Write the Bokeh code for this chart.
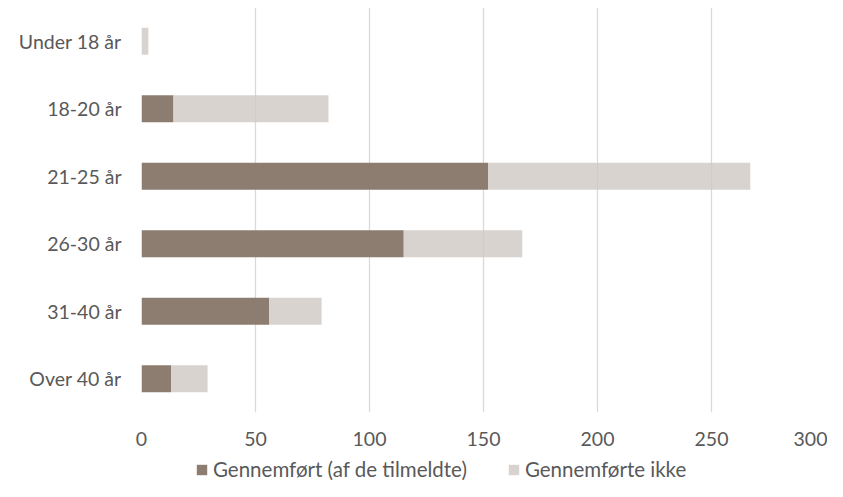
from bokeh.plotting import figure
from bokeh.models import FactorRange, Range1d, Legend, LegendItem, FixedTicker
from bokeh.layouts import column
from bokeh.embed import file_html
from bokeh.resources import INLINE

categories = ["Under 18 år", "18-20 år", "21-25 år", "26-30 år", "31-40 år", "Over 40 år"]
completed = [0, 14, 152, 115, 56, 13]
not_completed = [3, 68, 115, 52, 23, 16]
series = ["Gennemført (af de tilmeldte)", "Gennemførte ikke"]
x_ticks = [0, 50, 100, 150, 200, 250, 300]
colors = ["#8D7C70", "#D0C8C3"]
alphas = [1.0, 0.8]

FONT = "Lato"
TXT = "#595959"
W = 827

p = figure(width=W, height=456, output_backend="svg", toolbar_location=None,
           y_range=FactorRange(factors=list(reversed(categories))),
           x_range=Range1d(0, 300),
           min_border_left=141, min_border_right=2, min_border_top=7, min_border_bottom=44)

data = {"cat": categories, "c": completed, "n": not_completed}
rs = p.hbar_stack(["c", "n"], y="cat", height=0.4, source=data,
                  color=colors, fill_alpha=alphas, line_color=None)

p.outline_line_color = None
p.ygrid.grid_line_color = None
p.xgrid.grid_line_color = "#D9D9D9"
p.xgrid.grid_line_width = 1.3
p.xgrid.level = "underlay"
p.xaxis.ticker = FixedTicker(ticks=x_ticks)

for ax in (p.xaxis[0], p.yaxis[0]):
    ax.axis_line_color = None
    ax.major_tick_line_color = None
    ax.minor_tick_line_color = None
    ax.major_tick_out = 0
    ax.major_tick_in = 0
    ax.major_label_text_font = FONT
    ax.major_label_text_font_size = "19.5px"
    ax.major_label_text_color = TXT
p.yaxis.major_label_standoff = 20
p.xaxis.major_label_standoff = 19

# legend strip (its frame is aligned with the main plot's frame by the column layout)
lp = figure(width=W, height=25, output_backend="svg", toolbar_location=None,
            x_range=Range1d(0, 1), y_range=Range1d(0, 1),
            min_border_left=0, min_border_right=0, min_border_top=0, min_border_bottom=0)
lp.axis.visible = False
lp.grid.visible = False
lp.outline_line_color = None
lrs = [lp.hbar(y=[-10], right=[0], height=0.4, color=c, fill_alpha=a, line_color=None)
       for c, a in zip(colors, alphas)]
legend = Legend(items=[LegendItem(label=s, renderers=[r]) for s, r in zip(series, lrs)],
                orientation="horizontal", location=(54, 0),
                label_text_font=FONT, label_text_font_size="20.5px", label_text_color=TXT,
                glyph_width=13, glyph_height=13, label_standoff=5, spacing=40,
                border_line_color=None, background_fill_alpha=0, padding=0, margin=0)
lp.add_layout(legend, "center")

open("out.html", "w").write(file_html(column(p, lp, spacing=0), INLINE))
